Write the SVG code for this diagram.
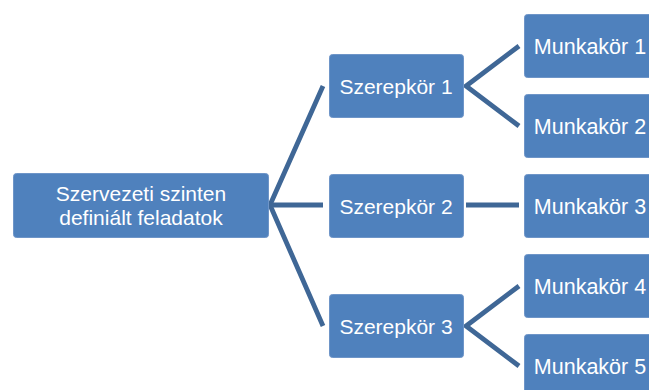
<svg xmlns="http://www.w3.org/2000/svg" width="649" height="390" viewBox="0 0 649 390">
<style>
.box{fill:#4F81BD;stroke:#6E95C8;stroke-width:1}
.lbl{font-family:"Liberation Sans",Arial,sans-serif;font-size:21px;fill:#FFFFFF;text-anchor:middle}
.mk{font-size:21.5px}
.con{fill:none;stroke:#3F6796;stroke-width:4.8;stroke-linejoin:miter}
</style>
<rect width="649" height="390" fill="#FFFFFF"/>
<g id="connectors">
<polyline class="con" points="323,86 270,205 323,326"/>
<line class="con" x1="270" y1="205" x2="323" y2="205"/>
<polyline class="con" points="519,46 466,86 519,126"/>
<line class="con" x1="466" y1="205" x2="519" y2="205"/>
<polyline class="con" points="519,286 466,326 519,366"/>
</g>
<g id="root">
<rect class="box" x="13.5" y="173.5" width="255" height="64" rx="3"/>
<text class="lbl" x="141" y="200.5">Szervezeti szinten</text>
<text class="lbl" x="141" y="225">definiált feladatok</text>
</g>
<g id="szerepkor1">
<rect class="box" x="329.5" y="54.5" width="134" height="63" rx="3"/>
<text class="lbl" x="396" y="93.5">Szerepkör 1</text>
</g>
<g id="szerepkor2">
<rect class="box" x="329.5" y="174.5" width="134" height="63" rx="3"/>
<text class="lbl" x="396" y="213.5">Szerepkör 2</text>
</g>
<g id="szerepkor3">
<rect class="box" x="329.5" y="294.5" width="134" height="63" rx="3"/>
<text class="lbl" x="396" y="333.5">Szerepkör 3</text>
</g>
<g id="munkakor1">
<rect class="box" x="524.5" y="14.5" width="134" height="63" rx="3"/>
<text class="lbl mk" x="590" y="53.5">Munkakör 1</text>
</g>
<g id="munkakor2">
<rect class="box" x="524.5" y="94.5" width="134" height="63" rx="3"/>
<text class="lbl mk" x="590" y="133.5">Munkakör 2</text>
</g>
<g id="munkakor3">
<rect class="box" x="524.5" y="174.5" width="134" height="63" rx="3"/>
<text class="lbl mk" x="590" y="213.5">Munkakör 3</text>
</g>
<g id="munkakor4">
<rect class="box" x="524.5" y="254.5" width="134" height="63" rx="3"/>
<text class="lbl mk" x="590" y="293.5">Munkakör 4</text>
</g>
<g id="munkakor5">
<rect class="box" x="524.5" y="334.5" width="134" height="63" rx="3"/>
<text class="lbl mk" x="590" y="373.5">Munkakör 5</text>
</g>
</svg>
